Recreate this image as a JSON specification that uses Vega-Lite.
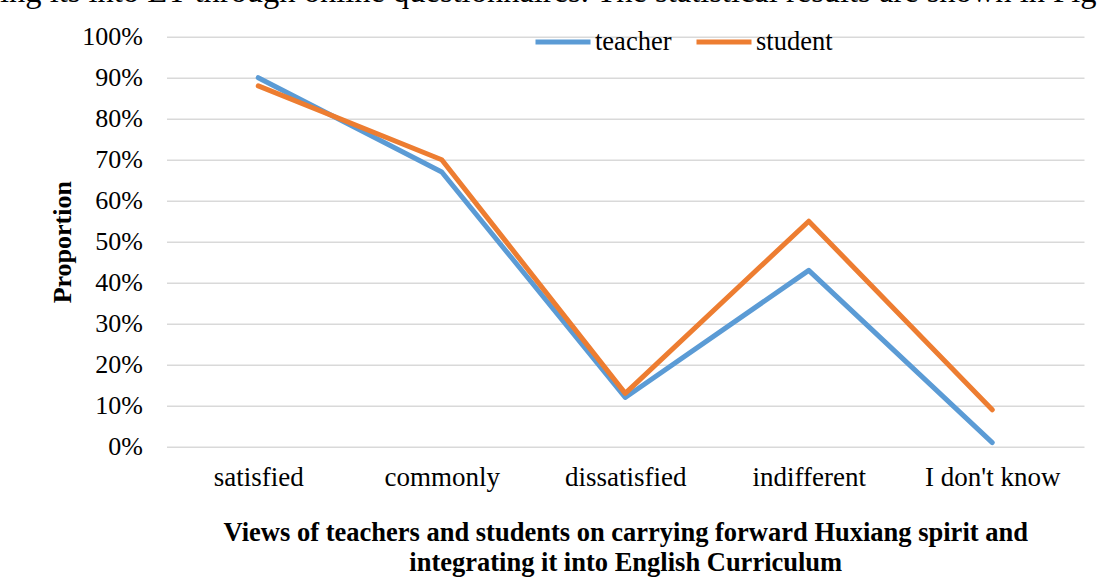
{
  "$schema": "https://vega.github.io/schema/vega-lite/v6.json",
  "autosize": {"type": "none"},
  "width": 917.5,
  "height": 410,
  "padding": {"left": 166.5, "top": 36.7, "right": 16, "bottom": 130.3},
  "background": "white",
  "title": {
    "text": "ing its into ET through online questionnaires. The statistical results are shown in Fig",
    "anchor": "start",
    "frame": "group",
    "font": "Liberation Serif",
    "fontSize": 32.5,
    "fontWeight": "normal",
    "color": "black",
    "baseline": "alphabetic",
    "dx": -166.5,
    "dy": 23,
    "offset": 0
  },
  "data": {
    "values": [
      {"category": "satisfied", "series": "teacher", "value": 0.90},
      {"category": "commonly", "series": "teacher", "value": 0.67},
      {"category": "dissatisfied", "series": "teacher", "value": 0.12},
      {"category": "indifferent", "series": "teacher", "value": 0.43},
      {"category": "I don't know", "series": "teacher", "value": 0.01},
      {"category": "satisfied", "series": "student", "value": 0.88},
      {"category": "commonly", "series": "student", "value": 0.70},
      {"category": "dissatisfied", "series": "student", "value": 0.13},
      {"category": "indifferent", "series": "student", "value": 0.55},
      {"category": "I don't know", "series": "student", "value": 0.09}
    ]
  },
  "mark": {"type": "line", "strokeWidth": 5, "strokeCap": "round", "strokeJoin": "round"},
  "encoding": {
    "x": {
      "field": "category",
      "type": "nominal",
      "sort": ["satisfied", "commonly", "dissatisfied", "indifferent", "I don't know"],
      "scale": {"type": "point", "padding": 0.5},
      "axis": {
        "title": ["Views of teachers and students on carrying forward Huxiang spirit and", "integrating it into English Curriculum"],
        "titleFont": "Liberation Serif",
        "titleFontSize": 26.5,
        "titleFontWeight": "bold",
        "titleColor": "black",
        "titleAlign": "center",
        "titleAnchor": "middle",
        "titleBaseline": "alphabetic",
        "titleY": 94,
        "titleLineHeight": 30,
        "labelAngle": 0,
        "labelFont": "Liberation Serif",
        "labelFontSize": 27,
        "labelColor": "black",
        "labelPadding": 18,
        "ticks": false,
        "domain": false,
        "grid": false
      }
    },
    "y": {
      "field": "value",
      "type": "quantitative",
      "scale": {"domain": [0, 1], "nice": false},
      "axis": {
        "title": "Proportion",
        "titleFont": "Liberation Serif",
        "titleFontSize": 26,
        "titleFontWeight": "bold",
        "titleColor": "black",
        "titleAngle": -90,
        "titleAlign": "center",
        "titleBaseline": "middle",
        "titleX": -104.5,
        "titleY": 205,
        "values": [0, 0.1, 0.2, 0.3, 0.4, 0.5, 0.6, 0.7, 0.8, 0.9, 1],
        "format": ".0%",
        "labelFont": "Liberation Serif",
        "labelFontSize": 26,
        "labelColor": "black",
        "labelPadding": 24,
        "ticks": false,
        "domain": false,
        "grid": true,
        "gridColor": "#d9d9d9",
        "gridWidth": 1.5
      }
    },
    "color": {
      "field": "series",
      "type": "nominal",
      "scale": {"domain": ["teacher", "student"], "range": ["#5B9BD5", "#ED7D31"]},
      "legend": {
        "title": null,
        "orient": "none",
        "direction": "horizontal",
        "legendX": 366.5,
        "legendY": -25,
        "symbolType": "stroke",
        "symbolSize": 3025,
        "symbolStrokeWidth": 5,
        "labelFont": "Liberation Serif",
        "labelFontSize": 26.5,
        "labelColor": "black",
        "labelOffset": 2,
        "columnPadding": 14
      }
    }
  },
  "config": {"view": {"stroke": null}}
}
